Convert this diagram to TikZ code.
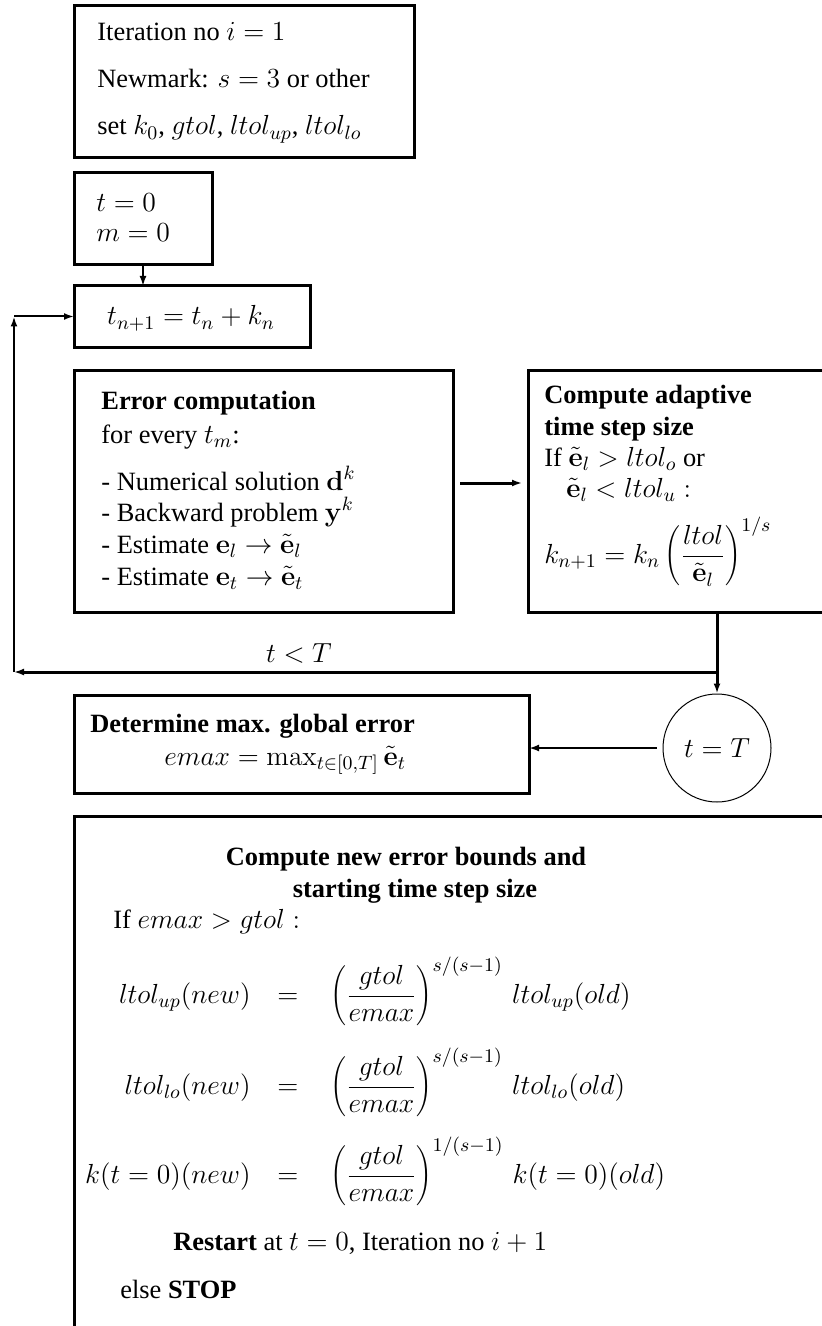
\RequirePackage{fix-cm}
\documentclass[tikz,border=0pt]{standalone}
\usepackage[no-math]{fontspec}
\setmainfont{Liberation Serif}
\DeclareMathSizes{13.2}{13.8}{9.66}{6.9}
\usetikzlibrary{arrows.meta,calc}
\begin{document}
\begin{tikzpicture}[x=0.5pt,y=-0.5pt,
  every node/.style={font=\fontsize{13.2}{16}\selectfont},
  box/.style={draw,line width=1.5pt,rectangle,anchor=north west,outer sep=0pt,inner sep=0pt},
  txt/.style={anchor=base west,inner sep=0pt},
  ctxt/.style={anchor=base,inner sep=0pt},
  thinarr/.style={line width=1pt,-{Latex[length=5pt,width=3.5pt]}},
  thickarr/.style={line width=1.5pt,-{Latex[length=5pt,width=3.5pt]}},
]
\clip (0,0) rectangle (822,1326);
\fill[white] (0,0) rectangle (822,1326);

% Box 1
\node[box,minimum width=170pt,minimum height=76pt] (b1) at (74,6) {};
\node[txt] (b1t1) at (97,41) {Iteration no $i=1$};
\node[txt] (b1t2) at (97,88) {Newmark: $s=3$ or other};
\node[txt] (b1t3) at (97,135) {set $k_0$, $gtol$, $ltol_{up}$, $ltol_{lo}$};

% Box 2
\node[box,minimum width=69pt,minimum height=46pt] (b2) at (74,173) {};
\node[txt] (b2t1) at (96,212) {$t=0$};
\node[txt] (b2t2) at (96,242) {$m=0$};

% Box 3
\node[box,minimum width=118pt,minimum height=30.5pt] (b3) at (74,286) {};
\node[ctxt] (b3t) at (191,325) {$t_{n+1}=t_n+k_n$};

% Box 4
\node[box,minimum width=189.5pt,minimum height=121pt] (b4) at (74,370) {};
\node[txt] (b4t1) at (101,409) {\textbf{Error computation}};
\node[txt] (b4t2) at (101,443) {for every $t_m$:};
\node[txt] (b4t3) at (101,490) {- Numerical solution $\mathbf{d}^k$};
\node[txt] (b4t4) at (101,521) {- Backward problem $\mathbf{y}^k$};
\node[txt] (b4t5) at (101,553) {- Estimate $\mathbf{e}_l\rightarrow\tilde{\mathbf{e}}_l$};
\node[txt] (b4t6) at (101,585) {- Estimate $\mathbf{e}_t\rightarrow\tilde{\mathbf{e}}_t$};

% Box 5
\node[box,minimum width=186pt,minimum height=121pt] (b5) at (528,370) {};
\node[txt] (b5t1) at (544,403) {\textbf{Compute adaptive}};
\node[txt] (b5t2) at (544,435) {\textbf{time step size}};
\node[txt] (b5t3) at (544,466) {If $\tilde{\mathbf{e}}_l>ltol_o$ or};
\node[txt] (b5t4) at (566,497) {$\tilde{\mathbf{e}}_l<ltol_u:$};
\node[txt] (b5t5) at (544,563) {$\displaystyle k_{n+1}=k_n\left(\frac{ltol}{\tilde{\mathbf{e}}_l}\right)^{1/s}$};

% Box 6
\node[box,minimum width=227.5pt,minimum height=49pt] (b6) at (74,695) {};
\node[txt] (b6t1) at (90,732) {\textbf{Determine max. global error}};
\node[txt] (b6t2) at (164,765) {$emax=\max_{t\in[0,T]}\tilde{\mathbf{e}}_t$};

% Circle
\node[draw,circle,line width=0.5pt,minimum size=54pt,inner sep=0pt] (c) at (717,748) {$t=T$};

% Box 7
\node[box,minimum width=413pt,minimum height=292pt] (b7) at (74,816) {};
\node[ctxt] (b7t1) at (406,865) {\textbf{Compute new error bounds and}};
\node[ctxt] (b7t2) at (415,897) {\textbf{starting time step size}};
\node[txt] (b7t3) at (113,928) {If $emax>gtol:$};

\node[anchor=base east,inner sep=0pt] (l1) at (251,1003) {$ltol_{up}(new)$};
\node[ctxt] (e1) at (288,1003) {$=$};
\node[txt] (r1) at (330,1003) {$\displaystyle\left(\frac{gtol}{emax}\right)^{s/(s-1)}\,ltol_{up}(old)$};

\node[anchor=base east,inner sep=0pt] (l2) at (251,1094) {$ltol_{lo}(new)$};
\node[ctxt] (e2) at (288,1094) {$=$};
\node[txt] (r2) at (330,1094) {$\displaystyle\left(\frac{gtol}{emax}\right)^{s/(s-1)}\,ltol_{lo}(old)$};

\node[anchor=base east,inner sep=0pt] (l3) at (251,1183) {$k(t=0)(new)$};
\node[ctxt] (e3) at (288,1183) {$=$};
\node[txt] (r3) at (330,1183) {$\displaystyle\left(\frac{gtol}{emax}\right)^{1/(s-1)}\,k(t=0)(old)$};

\node[txt] (b7t4) at (173,1250) {\textbf{Restart} at $t=0$, Iteration no $i+1$};
\node[txt] (b7t5) at (120,1298) {else \textbf{STOP}};

% Connectors
\coordinate (j) at (717,672);
\coordinate (lp1) at (14,672);
\coordinate (lp2) at (b3.west -| lp1);

\draw[thinarr] (b2.south) -- (b2.south |- b3.north);
\draw[thickarr] ($(b4.east)+(7,-8)$) -- ($(b5.west |- b4.east)+(-6,-8)$);
\draw[thickarr] (j |- b5.south) -- (c.north);
\draw[thickarr] (j) -- (lp1);
\draw[thinarr] (lp1) -- (lp2);
\draw[thinarr] (lp2) -- (b3.west);
\draw[thinarr,shorten <=3pt] (c.west) -- (c.west -| b6.east);
\node[ctxt] (lbl) at (299,662) {$t<T$};
\end{tikzpicture}
\end{document}
